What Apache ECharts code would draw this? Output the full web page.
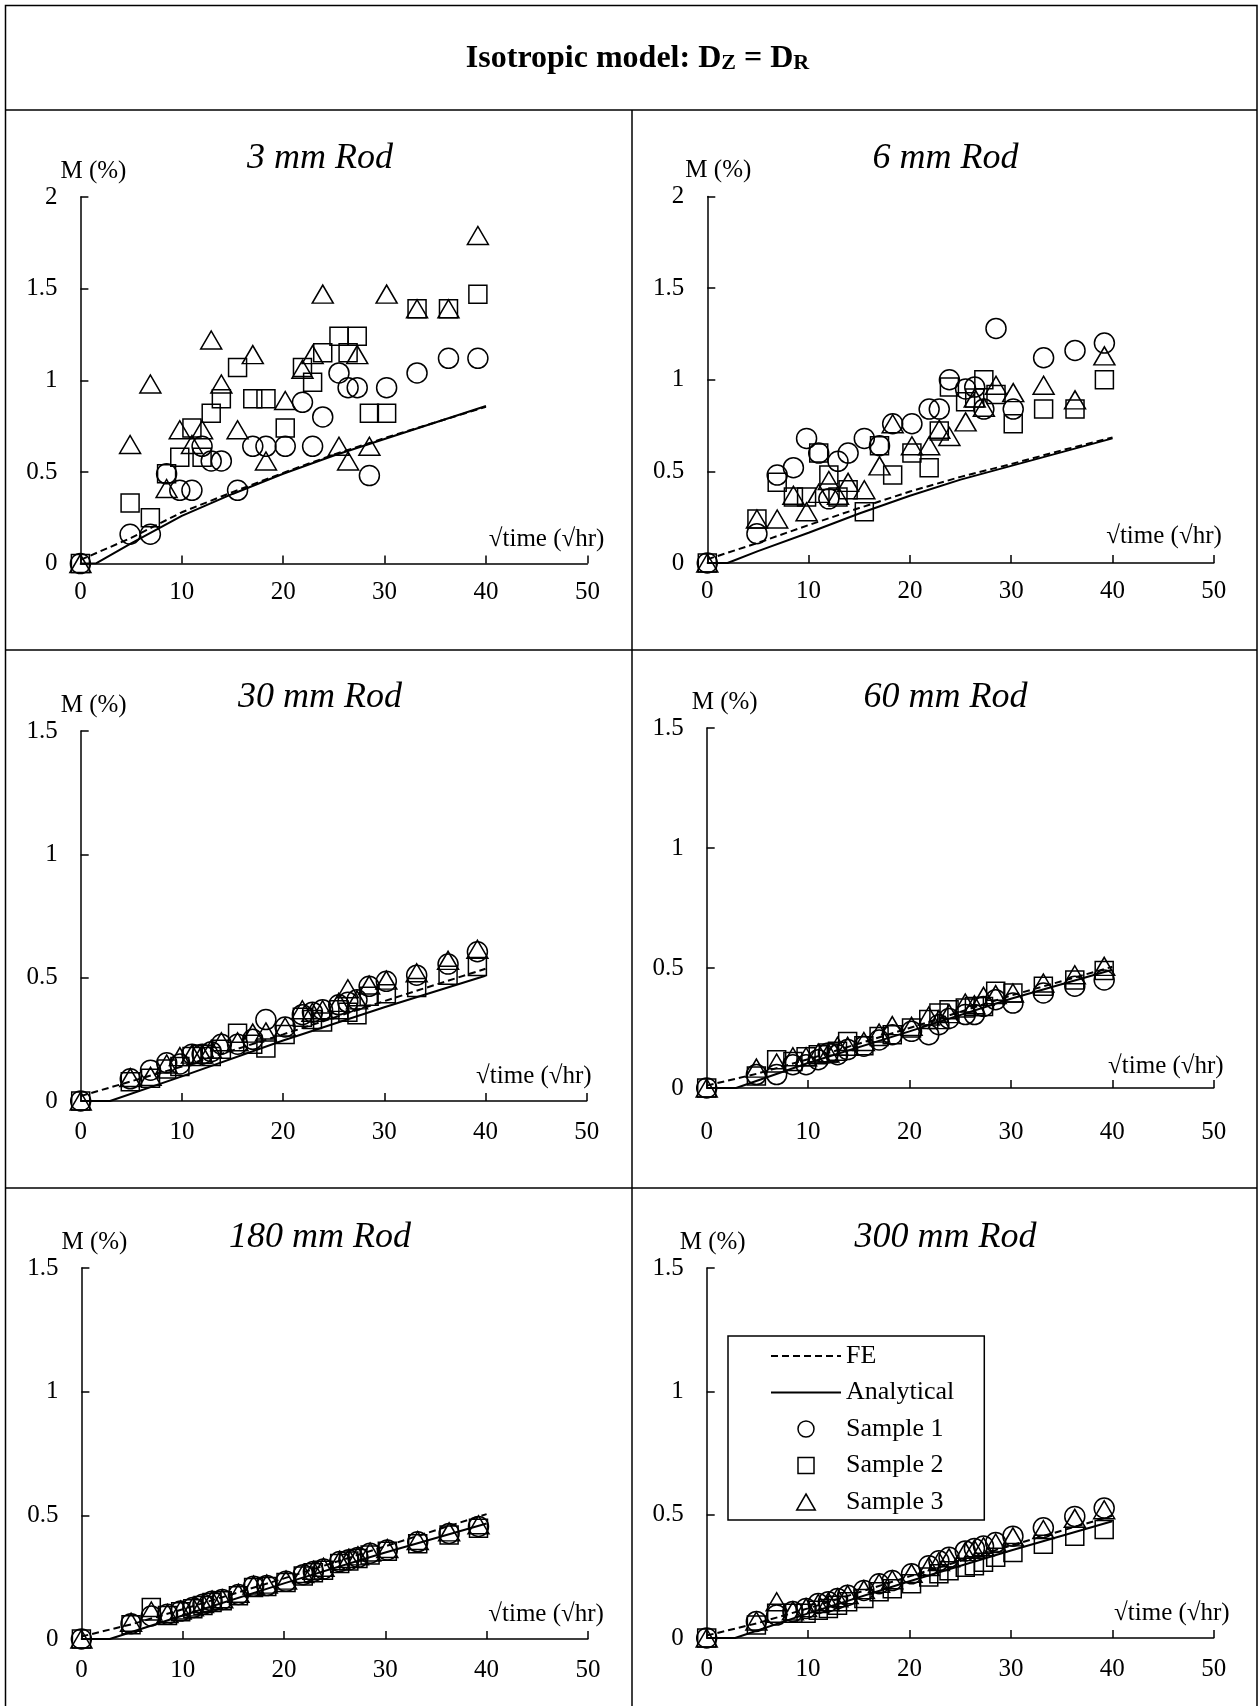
<!DOCTYPE html>
<html><head><meta charset="utf-8">
<script src="https://cdn.jsdelivr.net/npm/echarts@6/dist/echarts.min.js"></script>
<style>html,body{margin:0;padding:0;background:#fff}#c{width:1259px;height:1706px}</style>
</head><body><div id="c"></div>
<script>
// ---------- DATA ----------
const sqrtTime = [0, 4.9, 6.9, 8.5, 9.8, 11.0, 12.0, 12.9, 13.9, 15.5, 17.0, 18.3, 20.2, 21.9, 22.9, 23.9, 25.5, 26.4, 27.3, 28.5, 30.2, 33.2, 36.3, 39.2];
const xTicks = [0, 10, 20, 30, 40, 50];

// 3 mm rod
const rod3_fe = [[0,0.02],[5,0.14],[10,0.28],[15,0.39],[20,0.495],[25,0.595],[30,0.685],[35,0.77],[40,0.855]];
const rod3_an = [[0,0],[1.5,0],[5,0.11],[10,0.26],[15,0.38],[20,0.49],[25,0.59],[30,0.68],[35,0.77],[40,0.86]];
const rod3_s1 = [0, 0.16, 0.16, 0.49, 0.40, 0.40, 0.64, 0.56, 0.56, 0.40, 0.64, 0.64, 0.64, 0.88, 0.64, 0.80, 1.04, 0.96, 0.96, 0.48, 0.96, 1.04, 1.12, 1.12];
const rod3_s2 = [0, 0.33, 0.25, 0.49, 0.58, 0.74, 0.58, 0.82, 0.90, 1.07, 0.90, 0.90, 0.74, 1.07, 0.99, 1.15, 1.24, 1.15, 1.24, 0.82, 0.82, 1.39, 1.39, 1.47];
const rod3_s3 = [0, 0.65, 0.98, 0.41, 0.73, 0.65, 0.73, 1.22, 0.98, 0.73, 1.14, 0.56, 0.89, 1.06, 1.14, 1.47, 0.64, 0.56, 1.14, 0.64, 1.47, 1.39, 1.39, 1.79];

// 6 mm rod
const rod6_fe = [[0,0.02],[5,0.11],[10,0.207],[15,0.30],[20,0.39],[25,0.47],[30,0.54],[35,0.615],[40,0.685]];
const rod6_an = [[0,0],[2,0],[5,0.065],[10,0.165],[15,0.27],[20,0.367],[25,0.455],[30,0.53],[35,0.605],[40,0.68]];
const rod6_s1 = [0, 0.16, 0.48, 0.52, 0.68, 0.60, 0.35, 0.555, 0.60, 0.68, 0.64, 0.76, 0.76, 0.84, 0.84, 1.00, 0.95, 0.96, 0.84, 1.28, 0.84, 1.12, 1.16, 1.20];
const rod6_s2 = [0, 0.24, 0.44, 0.36, 0.36, 0.60, 0.48, 0.36, 0.40, 0.28, 0.64, 0.48, 0.60, 0.52, 0.72, 0.96, 0.88, 0.90, 1.00, 0.92, 0.76, 0.84, 0.84, 1.00];
const rod6_s3 = [0, 0.24, 0.24, 0.37, 0.28, 0.38, 0.45, 0.37, 0.44, 0.40, 0.53, 0.76, 0.64, 0.64, 0.73, 0.69, 0.77, 0.90, 0.85, 0.97, 0.93, 0.97, 0.89, 1.13];

// 30 mm rod
const rod30_fe = [[0,0.02],[5,0.08],[10,0.14],[20,0.27],[30,0.405],[40,0.536]];
const rod30_an = [[0,0],[2.9,0],[10,0.10],[20,0.245],[30,0.38],[40,0.508]];
const rod30_s1 = [0, 0.09, 0.125, 0.155, 0.15, 0.19, 0.19, 0.20, 0.23, 0.23, 0.25, 0.33, 0.30, 0.35, 0.36, 0.37, 0.39, 0.40, 0.41, 0.465, 0.485, 0.51, 0.555, 0.605];
const rod30_s2 = [0, 0.078, 0.092, 0.13, 0.14, 0.18, 0.19, 0.18, 0.21, 0.275, 0.23, 0.215, 0.27, 0.34, 0.33, 0.32, 0.37, 0.36, 0.35, 0.425, 0.435, 0.46, 0.51, 0.545];
const rod30_s3 = [0, 0.095, 0.10, 0.15, 0.18, 0.19, 0.19, 0.21, 0.24, 0.24, 0.275, 0.28, 0.30, 0.37, 0.36, 0.37, 0.40, 0.455, 0.41, 0.47, 0.49, 0.52, 0.57, 0.615];

// 60 mm rod
const rod60_fe = [[0,0.01],[5,0.06],[10,0.12],[20,0.25],[30,0.385],[40,0.505]];
const rod60_an = [[0,0],[2.9,0],[10,0.104],[20,0.236],[30,0.372],[40,0.493]];
const rod60_s1 = [0, 0.056, 0.056, 0.097, 0.097, 0.118, 0.146, 0.139, 0.16, 0.174, 0.20, 0.222, 0.236, 0.222, 0.264, 0.29, 0.306, 0.306, 0.34, 0.368, 0.354, 0.396, 0.424, 0.45];
const rod60_s2 = [0, 0.05, 0.118, 0.11, 0.13, 0.139, 0.146, 0.153, 0.194, 0.176, 0.215, 0.222, 0.25, 0.285, 0.3125, 0.326, 0.333, 0.34, 0.34, 0.403, 0.396, 0.424, 0.45, 0.49];
const rod60_s3 = [0, 0.083, 0.104, 0.13, 0.13, 0.146, 0.146, 0.174, 0.174, 0.194, 0.229, 0.26, 0.257, 0.30, 0.285, 0.31, 0.354, 0.347, 0.382, 0.389, 0.396, 0.4375, 0.472, 0.507];

// 180 mm rod
const rod180_fe = [[0,0.01],[5,0.06],[10,0.12],[20,0.245],[30,0.375],[40,0.505]];
const rod180_an = [[0,0],[2.8,0],[10,0.095],[20,0.225],[30,0.35],[40,0.467]];
const rod180_s1 = [0, 0.062, 0.093, 0.10, 0.113, 0.127, 0.14, 0.153, 0.16, 0.18, 0.213, 0.216, 0.233, 0.26, 0.273, 0.283, 0.313, 0.32, 0.33, 0.347, 0.36, 0.393, 0.427, 0.455];
const rod180_s2 = [0, 0.058, 0.127, 0.095, 0.11, 0.122, 0.135, 0.148, 0.155, 0.175, 0.208, 0.212, 0.228, 0.255, 0.268, 0.278, 0.305, 0.315, 0.325, 0.34, 0.355, 0.385, 0.42, 0.448];
const rod180_s3 = [0, 0.068, 0.113, 0.103, 0.117, 0.13, 0.143, 0.157, 0.163, 0.185, 0.218, 0.222, 0.238, 0.265, 0.278, 0.29, 0.318, 0.326, 0.336, 0.352, 0.366, 0.398, 0.433, 0.462];

// 300 mm rod
const rod300_fe = [[0,0.01],[5,0.06],[10,0.12],[20,0.25],[30,0.375],[40,0.495]];
const rod300_an = [[0,0],[2.8,0],[10,0.10],[20,0.23],[30,0.355],[40,0.473]];
const rod300_s1 = [0, 0.067, 0.093, 0.107, 0.12, 0.14, 0.147, 0.16, 0.173, 0.193, 0.22, 0.233, 0.26, 0.293, 0.313, 0.327, 0.353, 0.363, 0.373, 0.387, 0.413, 0.447, 0.493, 0.527];
const rod300_s2 = [0, 0.053, 0.10, 0.10, 0.10, 0.113, 0.12, 0.133, 0.147, 0.16, 0.187, 0.20, 0.22, 0.247, 0.26, 0.273, 0.287, 0.293, 0.307, 0.327, 0.347, 0.38, 0.413, 0.44];
const rod300_s3 = [0, 0.069, 0.147, 0.11, 0.123, 0.14, 0.147, 0.163, 0.176, 0.196, 0.222, 0.236, 0.262, 0.29, 0.31, 0.325, 0.35, 0.36, 0.37, 0.385, 0.41, 0.44, 0.485, 0.52];

const panelTitles = ['3 mm Rod', '6 mm Rod', '30 mm Rod', '60 mm Rod', '180 mm Rod', '300 mm Rod'];
const yMaxes = [2, 2, 1.5, 1.5, 1.5, 1.5];
const seriesNames = ['FE', 'Analytical', 'Sample 1', 'Sample 2', 'Sample 3'];

// ---------- LAYOUT ----------
const FONT = 'Liberation Serif';
const panelData = [
  [rod3_fe, rod3_an, rod3_s1, rod3_s2, rod3_s3],
  [rod6_fe, rod6_an, rod6_s1, rod6_s2, rod6_s3],
  [rod30_fe, rod30_an, rod30_s1, rod30_s2, rod30_s3],
  [rod60_fe, rod60_an, rod60_s1, rod60_s2, rod60_s3],
  [rod180_fe, rod180_an, rod180_s1, rod180_s2, rod180_s3],
  [rod300_fe, rod300_an, rod300_s1, rod300_s2, rod300_s3]
];
const layout = [
  {left: 80.4, top: 197, width: 507, height: 366.6, xMargin: 17, yNameDx: 13, xNameGap: 17, xNameUp: 12, titleX: 315, titleY: 136},
  {left: 707.3, top: 196.5, width: 506.5, height: 366.5, xMargin: 17, yNameDx: 11, xNameGap: 8, xNameUp: 14, titleX: 940.5, titleY: 136},
  {left: 80.7, top: 731, width: 506, height: 370, xMargin: 20, yNameDx: 13, xNameGap: 5, xNameUp: 12, titleX: 315, titleY: 675},
  {left: 706.7, top: 728, width: 507, height: 360, xMargin: 33, yNameDx: 18, xNameGap: 10, xNameUp: 9, titleX: 940.5, titleY: 675},
  {left: 81.4, top: 1268, width: 506.5, height: 371, xMargin: 20, yNameDx: 13, xNameGap: 16, xNameUp: 12, titleX: 315, titleY: 1215},
  {left: 706.7, top: 1268, width: 507, height: 370, xMargin: 20, yNameDx: 6, xNameGap: 16, xNameUp: 12, titleX: 940.5, titleY: 1215}
];

const grids = [], xAxes = [], yAxes = [], series = [];
const titles = [{
  text: '{b|Isotropic model: D}{s|Z}{b| = D}{s|R}',
  left: 632.5, textAlign: 'center', top: 38,
  textStyle: {
    fontFamily: FONT, color: '#000',
    rich: {
      b: {fontFamily: FONT, fontSize: 32, fontWeight: 'bold', color: '#000', verticalAlign: 'bottom'},
      s: {fontFamily: FONT, fontSize: 22, fontWeight: 'bold', color: '#000', verticalAlign: 'bottom', padding: [0, 0, 1, 0]}
    }
  }
}];

const axisLineStyle = {color: '#000', width: 1.5};
const noFill = 'rgba(0,0,0,0)';
layout.forEach((L, i) => {
  grids.push({left: L.left, top: L.top, width: L.width, height: L.height, containLabel: false});
  titles.push({
    text: panelTitles[i], left: L.titleX, textAlign: 'center', top: L.titleY,
    textStyle: {fontFamily: FONT, fontSize: 36, fontStyle: 'italic', fontWeight: 'normal', color: '#000'}
  });
  xAxes.push({
    gridIndex: i, type: 'value', min: 0, max: 50, interval: 10,
    name: '\u221Atime (\u221Ahr)', nameLocation: 'end', nameGap: L.xNameGap,
    nameTextStyle: {fontFamily: FONT, fontSize: 25, color: '#000', align: 'right', verticalAlign: 'bottom', padding: [0, 0, L.xNameUp, 0]},
    axisLine: {show: true, lineStyle: axisLineStyle, onZero: false},
    axisTick: {show: true, inside: true, length: 8, lineStyle: axisLineStyle},
    axisLabel: {fontFamily: FONT, fontSize: 25, color: '#000', margin: L.xMargin - 1, formatter: v => xTicks.includes(v) ? String(v) : ''},
    splitLine: {show: false}
  });
  yAxes.push({
    gridIndex: i, type: 'value', min: 0, max: yMaxes[i], interval: 0.5,
    name: 'M (%)', nameLocation: 'end', nameGap: 26,
    nameTextStyle: {fontFamily: FONT, fontSize: 25, color: '#000', align: 'center', verticalAlign: 'middle', padding: [0, 0, 0, 2 * L.yNameDx]},
    axisLine: {show: true, lineStyle: axisLineStyle},
    axisTick: {show: true, inside: true, length: 8, lineStyle: axisLineStyle},
    axisLabel: {fontFamily: FONT, fontSize: 25, color: '#000', margin: 23},
    splitLine: {show: false}
  });
  const d = panelData[i];
  series.push({
    name: 'FE', type: 'line', xAxisIndex: i, yAxisIndex: i, data: d[0],
    symbol: 'none', smooth: false,
    itemStyle: {color: noFill, borderColor: noFill, borderWidth: 0},
    lineStyle: {color: '#000', width: 2, type: [7, 4]}, z: 3
  });
  series.push({
    name: 'Analytical', type: 'line', xAxisIndex: i, yAxisIndex: i, data: d[1],
    symbol: 'none', smooth: false,
    itemStyle: {color: noFill, borderColor: noFill, borderWidth: 0},
    lineStyle: {color: '#000', width: 2, type: 'solid'}, z: 3
  });
  const syms = [['circle', 20], ['rect', 18], ['triangle', [21, 18]]];
  for (let k = 0; k < 3; k++) {
    series.push({
      name: seriesNames[k + 2], type: 'scatter', xAxisIndex: i, yAxisIndex: i,
      data: sqrtTime.map((x, j) => [x, d[k + 2][j]]),
      symbol: syms[k][0], symbolSize: syms[k][1],
      itemStyle: {color: noFill, borderColor: '#000', borderWidth: 1.5, opacity: 1},
      z: 4
    });
  }
});

const hollow = {color: '#fff', borderColor: '#000', borderWidth: 1.5};
const hidden = {color: noFill, borderColor: noFill, borderWidth: 0, opacity: 0};
const option = {
  animation: false,
  backgroundColor: '#fff',
  title: titles,
  grid: grids,
  xAxis: xAxes,
  yAxis: yAxes,
  series: series,
  legend: {
    orient: 'vertical', left: 728, top: 1336,
    data: [
      {name: 'FE', itemStyle: hidden, lineStyle: {color: '#000', width: 2, type: [7, 4]}},
      {name: 'Analytical', itemStyle: hidden, lineStyle: {color: '#000', width: 2, type: 'solid'}},
      {name: 'Sample 1', icon: 'circle', itemStyle: hollow},
      {name: 'Sample 2', icon: 'path://M0,0L10,0L10,10L0,10Z', itemStyle: hollow},
      {name: 'Sample 3', icon: 'path://M5.5,0L11,9.5L0,9.5Z', itemStyle: hollow}
    ],
    symbolKeepAspect: true,
    itemWidth: 70, itemHeight: 16, itemGap: 10.5,
    textStyle: {fontFamily: FONT, fontSize: 26, color: '#000', lineHeight: 26},
    borderColor: '#000', borderWidth: 1.5, padding: [7, 30, 5, 42],
    backgroundColor: '#fff', selectedMode: false, z: 10
  },
  graphic: [
    {type: 'polyline', shape: {points: [[5.5, 1706], [5.5, 5.5], [1257, 5.5], [1257, 1706]]}, style: {fill: 'none', stroke: '#000', lineWidth: 1.5}, silent: true},
    {type: 'line', shape: {x1: 5.5, y1: 110, x2: 1257, y2: 110}, style: {stroke: '#000', lineWidth: 1.5}, silent: true},
    {type: 'line', shape: {x1: 5.5, y1: 650, x2: 1257, y2: 650}, style: {stroke: '#000', lineWidth: 1.5}, silent: true},
    {type: 'line', shape: {x1: 5.5, y1: 1188, x2: 1257, y2: 1188}, style: {stroke: '#000', lineWidth: 1.5}, silent: true},
    {type: 'line', shape: {x1: 632, y1: 110, x2: 632, y2: 1706}, style: {stroke: '#000', lineWidth: 1.5}, silent: true}
  ]
};

const chart = echarts.init(document.getElementById('c'), null, {renderer: 'canvas'});
chart.setOption(option);
</script>
</body></html>
